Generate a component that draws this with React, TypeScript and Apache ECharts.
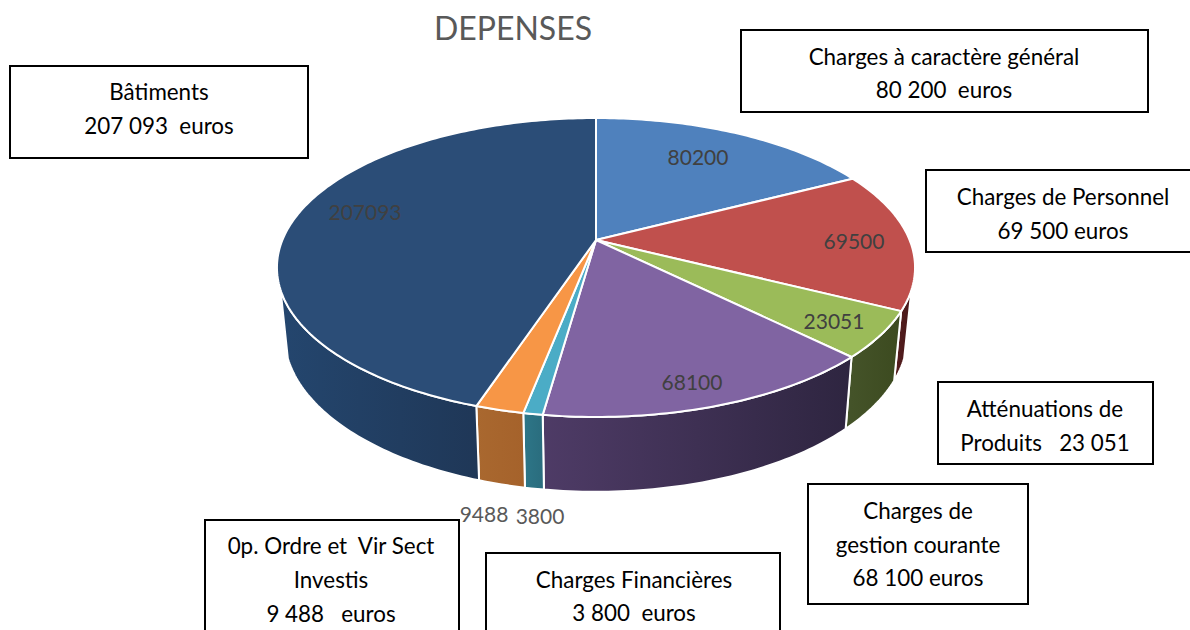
import React, { useEffect, useRef } from "react";
import * as echarts from "echarts";

const titleText = "DEPENSES";
const sliceValues = [80200, 69500, 23051, 68100, 3800, 9488, 207093];
const topColors = ["#4f81bd", "#c0504d", "#9bbb59", "#8064a2", "#4bacc6", "#f79646", "#2b4d77"];
const wallColors = [
  ["#3c6190", "#3c6190"],
  ["#541d1e", "#4a191a"],
  ["#45542a", "#3c4a1f"],
  ["#4e3b66", "#2e2540"],
  ["#2d7688", "#2a6c7d"],
  ["#a9682f", "#a5622b"],
  ["#24466e", "#1f3757"],
];
const valueLabelPositions = [
  [698, 156],
  [854, 240],
  [834, 320],
  [692, 381],
  [540, 515],
  [484, 513],
  [365, 211],
];
const valueLabelColors = ["#404040", "#404040", "#404040", "#404040", "#595959", "#595959", "#404040"];

const boxRects = [
  [741, 30, 407, 82],
  [926, 170, 270, 82],
  [938, 382, 215, 82],
  [808, 484, 220, 120],
  [486, 553, 294, 90],
  [205, 520, 254, 130],
  [10, 66, 298, 92],
];
const boxLines = [
  ["Charges à caractère général", "80 200  euros"],
  ["Charges de Personnel", "69 500 euros"],
  ["Atténuations de", "Produits   23 051"],
  ["Charges de", "gestion courante", "68 100 euros"],
  ["Charges Financières", "3 800  euros"],
  ["0p. Ordre et  Vir Sect", "Investis", "9 488   euros"],
  ["Bâtiments", "207 093  euros"],
];
const boxLineYs = [
  [56, 89],
  [196, 230],
  [408, 442],
  [510, 544, 577],
  [579, 612],
  [545, 579, 613],
  [91, 125],
];
const boxCenters = [944, 1063, 1045, 918, 634, 331, 159];

const FONT = "Lato";
const cx = 596, cy = 240, k = 0.184, A = 313.6, B = 144.4;
const total = sliceValues.reduce((a, b) => a + b, 0);
const cum: number[] = [0];
sliceValues.forEach((v, i) => cum.push(cum[i] + (v / total) * 360));

function rim(deg: number): [number, number] {
  const t = (deg * Math.PI) / 180;
  const u = Math.sin(t), v = Math.cos(t), d = 1 + k * v;
  return [cx + (A * u) / d, cy - (B * v) / d];
}
function lower(p: [number, number]): [number, number] {
  return [cx + 0.977 * (p[0] - cx), cy + 66 + 1.05 * (p[1] - cy)];
}
function arcPts(a: number, b: number): [number, number][] {
  const out: [number, number][] = [];
  const n = Math.max(2, Math.ceil(b - a));
  for (let i = 0; i <= n; i++) out.push(rim(a + ((b - a) * i) / n));
  return out;
}

const WALL_FROM = 109, WALL_TO = 251;

function renderWall(params: any) {
  const i = params.dataIndex;
  const a = Math.max(cum[i], WALL_FROM), b = Math.min(cum[i + 1], WALL_TO);
  if (b <= a) return { type: "group", children: [] };
  const t = arcPts(a, b);
  const pts = t.concat(t.slice().reverse().map(lower));
  return {
    type: "polygon",
    shape: { points: pts },
    style: {
      fill: new echarts.graphic.LinearGradient(0, 0, 1, 0, [
        { offset: 0, color: wallColors[i][0] },
        { offset: 1, color: wallColors[i][1] },
      ]),
      stroke: "#ffffff",
      lineWidth: 2,
      lineJoin: "round",
    },
  };
}

function renderTop(params: any) {
  const i = params.dataIndex;
  const pts = [[cx, cy] as [number, number]].concat(arcPts(cum[i], cum[i + 1]));
  return {
    type: "polygon",
    shape: { points: pts },
    style: { fill: topColors[i], stroke: "#ffffff", lineWidth: 2, lineJoin: "round" },
  };
}

function renderLabel(params: any, api: any) {
  const i = params.dataIndex;
  return {
    type: "text",
    x: valueLabelPositions[i][0],
    y: valueLabelPositions[i][1],
    style: {
      text: String(api.value(0)),
      fill: valueLabelColors[i],
      font: `21px ${FONT}`,
      textAlign: "center",
      textVerticalAlign: "middle",
    },
  };
}

export default function App() {
  const ref = useRef<HTMLDivElement>(null);
  useEffect(() => {
    document.body.style.margin = "0";
    const chart = echarts.init(ref.current!, undefined, { renderer: "svg" });
    const boxes: any[] = [];
    boxRects.forEach((r, i) => {
      boxes.push({
        type: "rect",
        shape: { x: r[0], y: r[1], width: r[2], height: r[3] },
        style: { fill: "#ffffff", stroke: "#000000", lineWidth: 2 },
      });
      boxLines[i].forEach((line, j) => {
        boxes.push({
          type: "text",
          x: boxCenters[i],
          y: boxLineYs[i][j],
          style: {
            text: line,
            fill: "#000000",
            font: `22.4px ${FONT}`,
            textAlign: "center",
            textVerticalAlign: "middle",
          },
        });
      });
    });
    chart.setOption({
      animation: false,
      backgroundColor: "#ffffff",
      title: {
        text: titleText,
        left: 508,
        top: 6,
        textAlign: "center",
        textStyle: { color: "#595959", fontSize: 32, fontWeight: "normal", fontFamily: FONT },
      },
      graphic: boxes,
      series: [
        { type: "custom", coordinateSystem: "none", silent: true, z: 1, data: sliceValues, renderItem: renderWall, clip: false },
        { type: "custom", coordinateSystem: "none", silent: true, z: 2, data: sliceValues, renderItem: renderTop, clip: false },
        { type: "custom", coordinateSystem: "none", silent: true, z: 3, data: sliceValues, renderItem: renderLabel, clip: false },
      ],
    });
    return () => chart.dispose();
  }, []);
  return <div ref={ref} style={{ width: 1190, height: 630, overflow: "hidden" }} />;
}
